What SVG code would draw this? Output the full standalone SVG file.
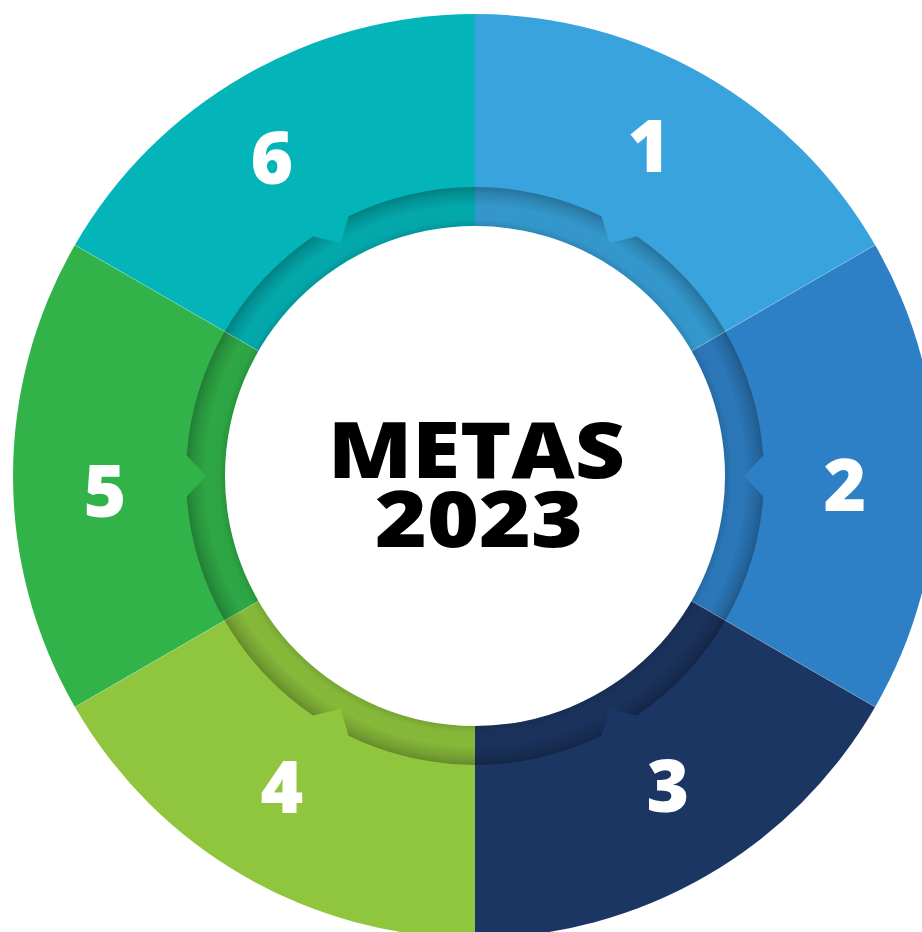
<svg xmlns="http://www.w3.org/2000/svg" width="922" height="932" viewBox="0 0 922 932">
  <defs>
    <style>
      .num { font-family: "Open Sans", "Liberation Sans", sans-serif; font-weight: 800; font-size: 73px; fill: #ffffff; text-anchor: middle; }
      .title { font-family: "Open Sans", "Liberation Sans", sans-serif; font-weight: 800; font-size: 78px; fill: #000000; text-anchor: middle; }
      .seam { stroke: #ffffff; stroke-opacity: 0.25; stroke-width: 1; fill: none; }
    </style>
    <radialGradient id="bandShade" gradientUnits="userSpaceOnUse" cx="475" cy="476" r="290">
      <stop offset="0.85" stop-color="#000" stop-opacity="0.22"/>
      <stop offset="0.885" stop-color="#000" stop-opacity="0.08"/>
      <stop offset="0.93" stop-color="#000" stop-opacity="0.07"/>
      <stop offset="0.975" stop-color="#000" stop-opacity="0.2"/>
      <stop offset="1" stop-color="#000" stop-opacity="0.32"/>
    </radialGradient>
  </defs>

  <rect width="922" height="932" fill="#ffffff"/>

  <g id="segment-1"><path d="M475,476 L475,14 A462,462 0 0 1 875.1,245 Z" fill="#38A3DC"/></g>
  <g id="segment-2"><path d="M475,476 L875.1,245 A462,462 0 0 1 875.1,707 Z" fill="#2E80C6"/></g>
  <g id="segment-3"><path d="M475,476 L875.1,707 A462,462 0 0 1 475,938 Z" fill="#1C3663"/></g>
  <g id="segment-4"><path d="M475,476 L475,938 A462,462 0 0 1 74.9,707 Z" fill="#90C63E"/></g>
  <g id="segment-5"><path d="M475,476 L74.9,707 A462,462 0 0 1 74.9,245 Z" fill="#31B34A"/></g>
  <g id="segment-6"><path d="M475,476 L74.9,245 A462,462 0 0 1 475,14 Z" fill="#03B5B8"/></g>

  <g id="inner-band">
    <path fill-rule="evenodd" fill="url(#bandShade)" d="M763.27,455.54 A289,289 0 0 0 636.90,236.59 L609.5,243.04 L601.44,216.13 A289,289 0 0 0 348.56,216.13 L340.5,243.04 L313.10,236.59 A289,289 0 0 0 186.73,455.54 L206,476 L186.73,496.46 A289,289 0 0 0 313.10,715.41 L340.5,708.96 L348.56,735.87 A289,289 0 0 0 601.44,735.87 L609.5,708.96 L636.90,715.41 A289,289 0 0 0 763.27,496.46 L744,476 Z M725,476 A250,250 0 1 0 225,476 A250,250 0 1 0 725,476 Z"/>
  </g>

  <g id="connectors">
    <path class="seam" d="M875.1,245 L475,476 M875.1,707 L475,476 M74.9,707 L475,476 M74.9,245 L475,476"/>
  </g>

  <g id="center">
    <circle cx="475" cy="476" r="250" fill="#ffffff"/>
    <text class="title"><tspan x="476.5" y="478" textLength="297" lengthAdjust="spacingAndGlyphs">METAS</tspan><tspan x="479" y="547" textLength="208" lengthAdjust="spacingAndGlyphs">2023</tspan></text>
  </g>

  <g id="label-1"><text class="num" x="649" y="172">1</text></g>
  <g id="label-2"><text class="num" x="845" y="511">2</text></g>
  <g id="label-3"><text class="num" x="668" y="812">3</text></g>
  <g id="label-4"><text class="num" x="282" y="813">4</text></g>
  <g id="label-5"><text class="num" x="105" y="517">5</text></g>
  <g id="label-6"><text class="num" x="272" y="184">6</text></g>
</svg>
